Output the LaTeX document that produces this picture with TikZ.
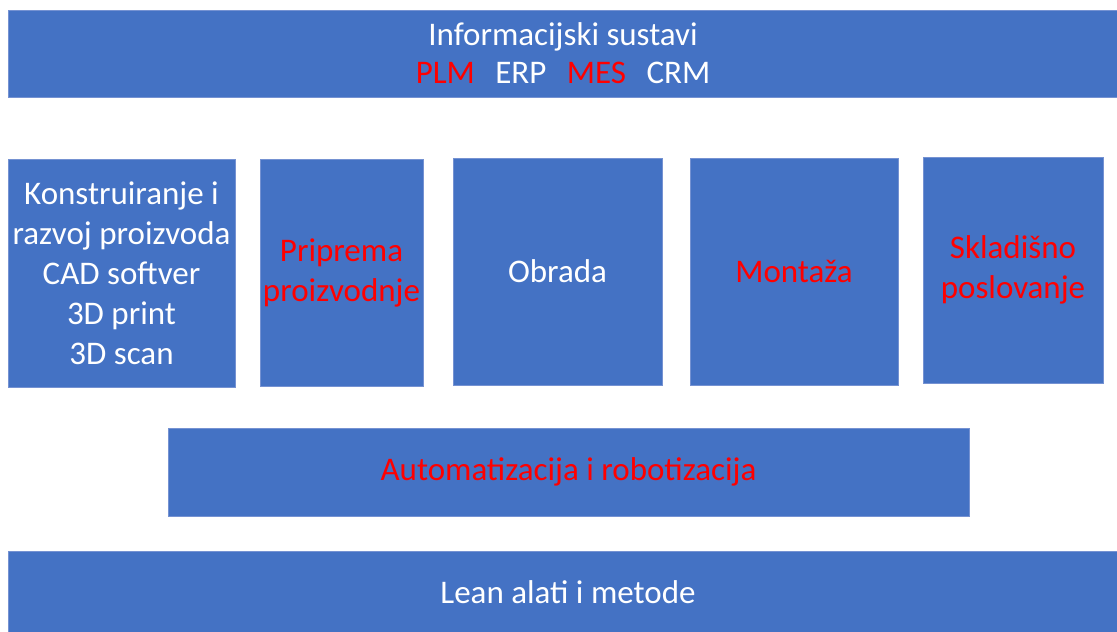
\documentclass[tikz,border=0pt]{standalone}
\usepackage{fontspec}
\setmainfont{Carlito}
\definecolor{boxblue}{HTML}{4472C4}
\definecolor{edgeblue}{HTML}{7592D2}
\definecolor{hired}{HTML}{FF0000}
\tikzset{
  blk/.style={fill=boxblue, draw=edgeblue, line width=0.6pt, inner sep=0pt, outer sep=0pt,
    text=white, align=center, font=\fontsize{33}{40}\selectfont},
  redtxt/.style={text=hired}
}
\begin{document}
\begin{tikzpicture}[x=1pt,y=-1pt]
\useasboundingbox (0,0) rectangle (1117,632);
\fill[white] (0,0) rectangle (1117,632);
% top bar
\node[blk, minimum width=1110pt, minimum height=87pt] (info) at (563,53.5)
  {Informacijski sustavi\\[-2pt]\textcolor{hired}{PLM}\hspace{0.62em}ERP\hspace{0.62em}\textcolor{hired}{MES}\hspace{0.62em}CRM};
% middle boxes
\node[blk, minimum width=227pt, minimum height=228pt] (kons) at (121.5,273)
  {Konstruiranje i\\razvoj proizvoda\\CAD softver\\3D print\\3D scan};
\node[blk, redtxt, minimum width=163pt, minimum height=227pt] (prip) at (341.5,272.5)
  {Priprema\\proizvodnje};
\node[blk, minimum width=209pt, minimum height=227pt] (obr) at (557.5,271.5)
  {Obrada};
\node[blk, redtxt, minimum width=208pt, minimum height=227pt] (mont) at (794,271.5)
  {Monta\v{z}a};
\node[blk, redtxt, minimum width=180pt, minimum height=226pt] (skl) at (1013,270)
  {Skladi\v{s}no\\poslovanje};
% automation bar
\node[blk, redtxt, minimum width=801pt, minimum height=88pt] (auto) at (568.5,472)
  {Automatizacija i robotizacija};
% lean bar
\node[blk, minimum width=1110pt, minimum height=82pt] (lean) at (563,592)
  {\hspace*{10pt}\raisebox{-3pt}{Lean alati i metode}};
\end{tikzpicture}
\end{document}
